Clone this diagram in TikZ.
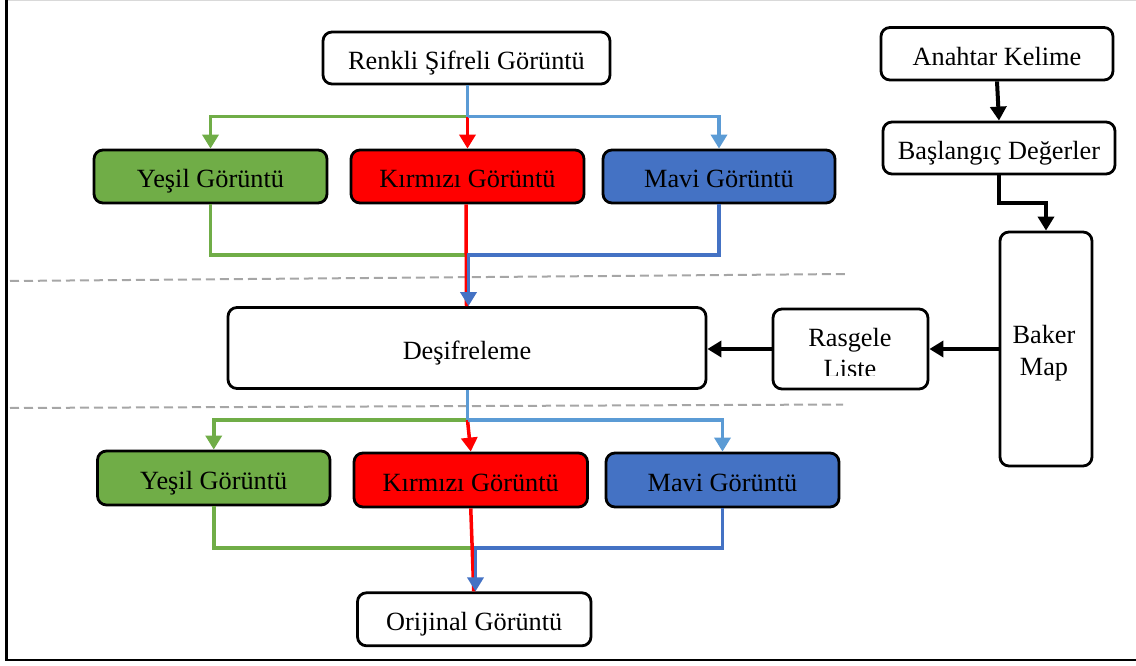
\documentclass[tikz,border=0pt]{standalone}
\usepackage{fontspec}
\setmainfont{Liberation Serif}
\usetikzlibrary{arrows.meta}
\definecolor{boxgreen}{HTML}{70AD47}
\definecolor{boxred}{HTML}{FF0000}
\definecolor{boxblue}{HTML}{4472C4}
\definecolor{feedblue}{HTML}{5B9BD5}
\definecolor{sepgray}{HTML}{A6A6A6}
\begin{document}
\begin{tikzpicture}[x=1pt,y=-1pt,
  every node/.style={font=\fontsize{26.3}{31}\selectfont},
  stepbox/.style={draw=black, line width=2.8pt, rounded corners=9pt, inner sep=0pt,
                  text height=23pt, text depth=0pt},
  txt/.style={inner sep=0pt, anchor=base},
  tip/.style={-{Triangle[width=16pt,length=14pt]}},
  gline/.style={draw=boxgreen, line width=3.5pt},
  rline/.style={draw=boxred, line width=3.5pt},
  bline/.style={draw=boxblue, line width=3.5pt},
  lbline/.style={draw=feedblue, line width=3.5pt},
  kline/.style={draw=black, line width=4pt},
  sep/.style={draw=sepgray, line width=2pt, dash pattern=on 9pt off 5pt}]
\useasboundingbox (0,0) rectangle (1136,666);

% page frame
\draw[black!15, line width=1.5pt] (6.5,0.75) -- (1136,0.75);
\draw[line width=2.2pt] (6.5,0) -- (6.5,660) -- (1136,660);

% separators
\draw[sep] (10,281) -- (846,274);
\draw[sep] (10,408) -- (843,404.5);

% left column: encrypted image, channels, decryption, channels, original
\node[stepbox, minimum width=287pt, minimum height=52pt] (ren) at (466.5,58) {Renkli Şifreli Görüntü};

\node[stepbox, fill=boxgreen, minimum width=233pt, minimum height=53pt] (y1) at (210.5,176.5) {Yeşil Görüntü};
\node[stepbox, fill=boxred,   minimum width=233pt, minimum height=53pt] (k1) at (467.5,176.5) {Kırmızı Görüntü};
\node[stepbox, fill=boxblue,  minimum width=232pt, minimum height=53pt] (m1) at (719,176.5) {Mavi Görüntü};

\node[stepbox, minimum width=478pt, minimum height=81pt] (des) at (467,348) {Deşifreleme};

\node[stepbox, fill=boxgreen, minimum width=232.5pt, minimum height=54pt] (y2) at (213.75,478) {Yeşil Görüntü};
\node[stepbox, fill=boxred,   minimum width=233.5pt, minimum height=54pt] (k2) at (470.75,480) {Kırmızı Görüntü};
\node[stepbox, fill=boxblue,  minimum width=233pt,   minimum height=54pt] (m2) at (722.5,480) {Mavi Görüntü};

\node[stepbox, minimum width=233.5pt, minimum height=53pt] (ori) at (474.25,619.3) {Orijinal Görüntü};

% right column: key chain
\node[stepbox, minimum width=232pt, minimum height=52.5pt] (key) at (997,53.75) {Anahtar Kelime};
\node[stepbox, minimum width=232pt, minimum height=52pt] (bas) at (999,148) {Başlangıç Değerler};
\node[stepbox, minimum width=92pt, minimum height=234pt] (baker) at (1046,349) {};
\node[txt] (bakerA) at (1044,343.3) {Baker};
\node[txt] (bakerB) at (1044,375) {Map};
\node[stepbox, minimum width=155pt, minimum height=80pt] (ras) at (850.5,349) {};
\begin{scope}
  \clip (775,311) rectangle (926,375.5);
  \node[txt] (rasA) at (850,346.7) {Rasgele};
  \node[txt] (rasB) at (850,377) {Liste};
\end{scope}

% junctions
\coordinate (j1) at (467.5,116.7);
\coordinate (j2) at (466,255);
\coordinate (j3) at (468.5,255);
\coordinate (j4) at (467.5,420);
\coordinate (j5) at (472.5,548);
\coordinate (j6) at (475.5,548);
\coordinate (j7) at (999,203);

% split of the encrypted image
\draw[gline, tip] (j1) -| (y1.north);
\draw[rline, tip] (j1) -- (k1.north);
\draw[lbline] (ren.south -| j1) -- (j1);
\draw[lbline, tip] (j1) -| (m1.north);

% channels into decryption
\draw[gline] (y1.south) |- (j2);
\draw[rline] ([xshift=-1.5pt]k1.south) -- ([xshift=-0.5pt]des.north);
\draw[bline, tip] (m1.south) |- (j3) -- (j3 |- des.north);

% split of the decrypted image
\draw[gline, tip] (j4) -| (y2.north);
\draw[rline, tip] (j4) -- (k2.north);
\draw[lbline] (des.south -| j4) -- (j4);
\draw[lbline, tip] (j4) -| (m2.north);

% channels into the original image
\draw[gline] (y2.south) |- (j5);
\draw[rline] (k2.south) -- ([xshift=-0.5pt]ori.north);
\draw[bline, tip] (m2.south) |- (j6) -- (j6 |- ori.north);

% key schedule
\draw[kline, tip] (key.south) -- (bas.north);
\draw[kline, tip] (bas.south) -- (j7) -| (baker.north);
\draw[kline, tip] (baker.west) -- (ras.east);
\draw[kline, tip] (ras.west) -- (ras.west -| des.east);
\end{tikzpicture}
\end{document}
